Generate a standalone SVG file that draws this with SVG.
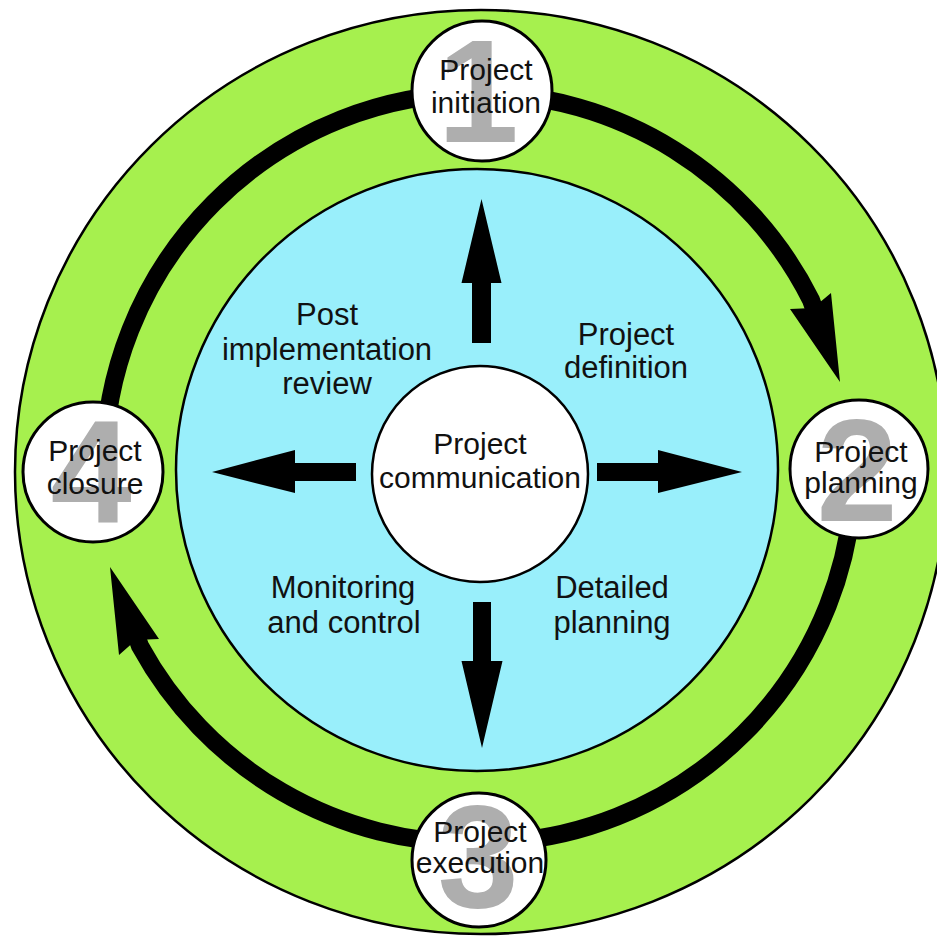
<svg xmlns="http://www.w3.org/2000/svg" width="937" height="943" viewBox="0 0 937 943">
<style>
.lbl{font-family:"Liberation Sans",Arial,sans-serif;font-size:31px;fill:#111;text-anchor:middle}
.nt{font-family:"Liberation Sans",Arial,sans-serif;font-size:30px;fill:#111;text-anchor:middle}
.dg{font-family:"Liberation Sans",Arial,sans-serif;font-weight:bold;font-size:146px;fill:#aeaeae;text-anchor:middle}
.node{fill:#fff;stroke:#000;stroke-width:3}
.arc{fill:none;stroke:#000;stroke-width:18}
.ah{fill:#000}
</style>
<rect width="937" height="943" fill="#fff"/>
<g id="rings">
<ellipse cx="481" cy="472" rx="466" ry="462" fill="#a6f04e" stroke="#000" stroke-width="2.5"/>
<circle cx="477" cy="470" r="301" fill="#99effb" stroke="#000" stroke-width="2.5"/>
</g>
<g id="connectors">
<path class="arc" d="M 479 93 A 375 375 0 0 1 811 300 L 816 314"/>
<polygon class="ah" points="840,382 790,309 813,308 831,293"/>
<path class="arc" d="M 854 468 A 375 375 0 0 1 479 843"/>
<path class="arc" d="M 479 843 A 378 378 0 0 1 140 646 L 135 632"/>
<polygon class="ah" points="110,567 159,639 136,640 119,655"/>
<path class="arc" d="M 104 468 A 375 375 0 0 1 479 93"/>
<polygon class="ah" points="481.5,199 501.5,283 491,283 491,343 472,343 472,283 461.5,283"/>
<polygon class="ah" points="482,748 502.5,661 491,661 491,602 473,602 473,661 461.5,661"/>
<polygon class="ah" points="212,472 295,450 295,463 356,463 356,481 295,481 295,493"/>
<polygon class="ah" points="742,472 658,450 658,463 597,463 597,481 658,481 658,493"/>
</g>
<g id="node-initiation">
<circle class="node" cx="482" cy="91" r="70"/>
<text class="dg" x="478" y="142">1</text>
<text class="nt" x="486" y="80">Project</text>
<text class="nt" x="486" y="113">initiation</text>
</g>
<g id="node-planning">
<circle class="node" cx="859" cy="469" r="69"/>
<text class="dg" x="857" y="521">2</text>
<text class="nt" x="861" y="462">Project</text>
<text class="nt" x="861" y="493">planning</text>
</g>
<g id="node-execution">
<circle class="node" cx="479" cy="860" r="67"/>
<text class="dg" x="478" y="907">3</text>
<text class="nt" x="480" y="842">Project</text>
<text class="nt" x="480" y="873">execution</text>
</g>
<g id="node-closure">
<circle class="node" cx="93" cy="472" r="70"/>
<text class="dg" x="91" y="523">4</text>
<text class="nt" x="95" y="461">Project</text>
<text class="nt" x="95" y="494">closure</text>
</g>
<g id="node-communication">
<circle cx="480" cy="474" r="108" fill="#fff" stroke="#000" stroke-width="2.5"/>
<text class="nt" x="480" y="454">Project</text>
<text class="nt" x="480" y="488">communication</text>
</g>
<g id="labels">
<text class="lbl" x="327" y="325">Post</text>
<text class="lbl" x="327" y="360">implementation</text>
<text class="lbl" x="327" y="394">review</text>
<text class="lbl" x="626" y="345">Project</text>
<text class="lbl" x="626" y="378">definition</text>
<text class="lbl" x="343" y="598">Monitoring</text>
<text class="lbl" x="344" y="633">and control</text>
<text class="lbl" x="612" y="598">Detailed</text>
<text class="lbl" x="612" y="633">planning</text>
</g>
</svg>
